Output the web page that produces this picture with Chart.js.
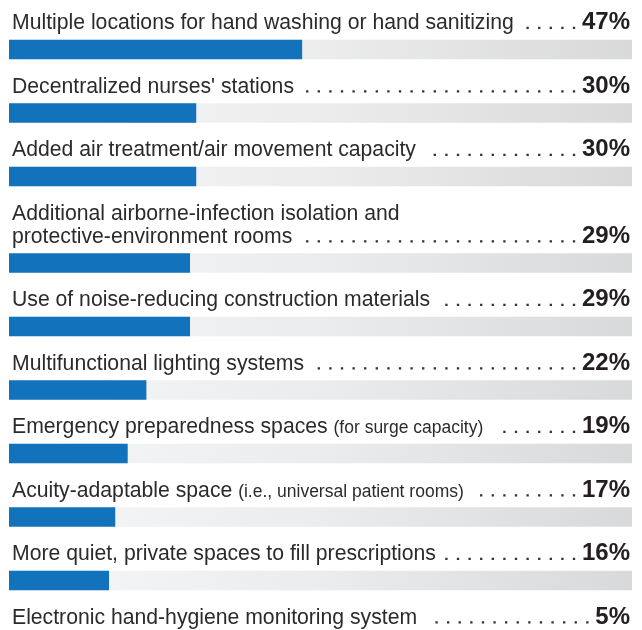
<!DOCTYPE html>
<html>
<head>
<meta charset="utf-8">
<script src="https://cdn.jsdelivr.net/npm/chart.js@4"></script>
<style>
  html, body { margin: 0; padding: 0; background: #ffffff; overflow: hidden; }
  #wrap { position: relative; width: 642px; height: 630px; }
</style>
</head>
<body>
<div id="wrap"><canvas id="c"></canvas></div>
<script>
// ---- data ----
const categories = [
  ["Multiple locations for hand washing or hand sanitizing"],
  ["Decentralized nurses' stations"],
  ["Added air treatment/air movement capacity"],
  ["Additional airborne-infection isolation and", "protective-environment rooms"],
  ["Use of noise-reducing construction materials"],
  ["Multifunctional lighting systems"],
  ["Emergency preparedness spaces"],
  ["Acuity-adaptable space"],
  ["More quiet, private spaces to fill prescriptions"],
  ["Electronic hand-hygiene monitoring system"]
];
const notes = ["", "", "", "", "", "", "(for surge capacity)", "(i.e., universal patient rooms)", "", ""];
const values = [47, 30, 30, 29, 29, 22, 19, 17, 16, 5];
const valueLabels = ["47%", "30%", "30%", "29%", "29%", "22%", "19%", "17%", "16%", "5%"];
const trackMax = 100;

// ---- layout constants ----
const EXTRA_LINE = 0.362;   // row units added per extra label line
const ROW_PX = 63.5;
const Y_MIN = -0.78;
const Y_MAX = Y_MIN + 630 / ROW_PX;

// row positions derived from the number of label lines
const rowY = [];
(function () {
  let p = 0;
  categories.forEach((lines, i) => {
    p += EXTRA_LINE * (lines.length - 1);
    rowY.push(i + p);
  });
})();

const BLUE = '#1272bb';
const TEXT = '#2b2b2b';
const FONT = '"Liberation Sans", Arial, sans-serif';

const labelPlugin = {
  id: 'rowLabels',
  afterDraw(chart) {
    const ctx = chart.ctx;
    const meta = chart.getDatasetMeta(0);
    const xs = chart.scales.x;
    const right = 630;
    ctx.save();
    meta.data.forEach((bar, i) => {
      const top = bar.y - bar.height / 2;
      const base = top - 11;
      const lines = categories[i];
      ctx.textBaseline = 'alphabetic';
      ctx.fillStyle = TEXT;
      ctx.textAlign = 'left';
      let endX = 0;
      lines.forEach((ln, k) => {
        const y = base - (lines.length - 1 - k) * 23;
        ctx.font = '21.2px ' + FONT;
        ctx.fillText(ln, xs.left + 3, y);
        let w = xs.left + 3 + ctx.measureText(ln).width;
        if (k === lines.length - 1 && notes[i]) {
          const sp = ctx.measureText(' ').width;
          ctx.font = '17.5px ' + FONT;
          ctx.fillText(notes[i], w + sp, y);
          w = w + sp + ctx.measureText(notes[i]).width;
        }
        if (k === lines.length - 1) endX = w;
      });
      // percentage
      ctx.font = 'bold 24px ' + FONT;
      ctx.textAlign = 'right';
      ctx.fillStyle = '#231f20';
      ctx.fillText(valueLabels[i], right, base);
      const pw = ctx.measureText(valueLabels[i]).width;
      // leader dots
      ctx.fillStyle = '#333333';
      let dx = right - pw - 8;
      while (dx > endX + 10) {
        ctx.fillRect(dx - 1.1, base - 2.3, 2.3, 2.3);
        dx -= 11.6;
      }
    });
    ctx.restore();
  }
};

const blueData = values.map((v, i) => ({ x: v, y: rowY[i] }));
const trackData = values.map((v, i) => ({ x: trackMax, y: rowY[i] }));

new Chart(document.getElementById('c'), {
  type: 'bar',
  data: {
    datasets: [
      {
        data: blueData,
        backgroundColor: BLUE,
        borderWidth: 0,
        barThickness: 19,
        grouped: false,
        order: 0
      },
      {
        data: trackData,
        backgroundColor: (c) => {
          const area = c.chart.chartArea;
          if (!area) return '#e6e7e9';
          const g = c.chart.ctx.createLinearGradient(area.left, 0, area.right, 0);
          g.addColorStop(0, '#f6f7f8');
          g.addColorStop(0.5, '#ebecee');
          g.addColorStop(1, '#d8d9db');
          return g;
        },
        borderWidth: 0,
        barThickness: 19,
        grouped: false,
        order: 1
      }
    ]
  },
  options: {
    indexAxis: 'y',
    responsive: true,
    maintainAspectRatio: false,
    animation: false,
    events: [],
    layout: { padding: { left: 9, right: 10, top: 0, bottom: 0 } },
    plugins: { legend: { display: false }, tooltip: { enabled: false } },
    scales: {
      x: { type: 'linear', min: 0, max: trackMax, display: false },
      y: { type: 'linear', min: Y_MIN, max: Y_MAX, reverse: true, offset: false, display: false }
    }
  },
  plugins: [labelPlugin]
});
</script>
</body>
</html>
